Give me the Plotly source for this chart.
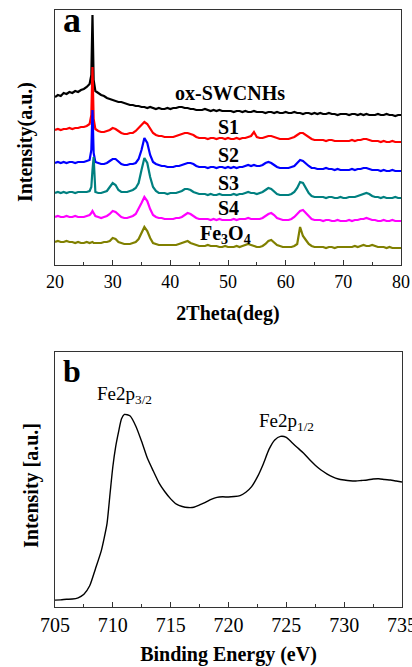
import plotly.graph_objects as go

# ---- (a) XRD patterns -------------------------------------------------------
two_theta = [
    20.0, 20.5, 21.0, 21.5, 22.0, 22.5, 23.0, 23.5, 24.0, 24.5, 25.0, 25.5, 26.0,
    26.3, 26.5, 26.7,
    27.0, 27.5, 28.0, 28.5, 29.0, 29.5, 30.0,
    30.5, 31.0, 31.5, 32.0, 32.5, 33.0, 33.5, 34.0, 34.5, 35.0,
    35.5, 36.0, 36.5, 37.0, 37.5, 38.0, 38.5, 39.0, 39.5, 40.0,
    40.5, 41.0, 41.5, 42.0, 42.5, 43.0, 43.5, 44.0, 44.5, 45.0,
    45.5, 46.0, 46.5, 47.0, 47.5, 48.0, 48.5, 49.0, 49.5, 50.0,
    50.5, 51.0, 51.5, 52.0, 52.5, 53.0, 53.5, 54.0, 54.5, 55.0,
    55.5, 56.0, 56.5, 57.0, 57.5, 58.0, 58.5, 59.0, 59.5, 60.0,
    60.5, 61.0, 61.5, 62.0, 62.5, 63.0, 63.5, 64.0, 64.5, 65.0,
    65.5, 66.0, 66.5, 67.0, 67.5, 68.0, 68.5, 69.0, 69.5, 70.0,
    70.5, 71.0, 71.5, 72.0, 72.5, 73.0, 73.5, 74.0, 74.5, 75.0,
    75.5, 76.0, 76.5, 77.0, 77.5, 78.0, 78.5, 79.0, 79.5, 80.0,
]

ox_swcnhs = [
    168, 170, 169, 172, 171, 173, 172, 174, 173, 175, 176, 178, 181,
    190, 250, 185,
    174, 172, 170, 169, 167, 166, 165,
    164, 163, 163, 162, 161, 160, 160, 159, 159, 158,
    158, 157, 158, 157, 156, 157, 156, 156, 157, 156,
    157, 157, 158, 158, 157, 157, 156, 156, 155, 155,
    155, 156, 155, 154, 155, 154, 155, 154, 154, 154,
    154, 153, 154, 154, 153, 154, 153, 153, 154, 153,
    153, 153, 152, 153, 153, 152, 153, 152, 152, 153,
    152, 152, 153, 152, 152, 151, 152, 152, 151, 152,
    151, 152, 151, 151, 152, 151, 151, 150, 151, 151,
    151, 150, 151, 151, 150, 151, 150, 151, 150, 150,
    150, 151, 150, 150, 151, 150, 150, 149, 150, 150,
]

s1 = [
    135, 136, 135, 136, 136, 137, 136, 137, 137, 138, 138, 139, 141,
    150, 198, 146,
    136, 134, 133, 133, 134, 135, 137,
    136, 134, 132, 131, 131, 132, 132, 134, 137, 141,
    143, 141, 136, 132, 130, 129, 129, 128, 128, 128,
    128, 129, 130, 131, 132, 132, 131, 130, 128, 127,
    127, 127, 126, 127, 127, 126, 127, 127, 126, 127,
    126, 126, 127, 126, 127, 127, 128, 129, 133, 128,
    127, 127, 128, 129, 129, 128, 127, 126, 126, 126,
    126, 127, 128, 130, 132, 132, 130, 128, 126, 125,
    125, 125, 125, 124, 125, 125, 124, 124, 124, 124,
    124, 124, 125, 124, 125, 125, 126, 126, 125, 124,
    124, 124, 123, 124, 123, 123, 124, 123, 123, 123,
]

s2 = [
    102, 103, 102, 103, 102, 103, 103, 102, 103, 103, 103, 104, 105,
    115, 155, 112,
    103, 102, 101, 101, 102, 104, 106,
    106, 103, 101, 100, 100, 101, 101, 102, 106, 115,
    127, 122, 110, 103, 101, 100, 99, 99, 98, 98,
    98, 99, 99, 100, 101, 102, 102, 101, 99, 98,
    98, 98, 97, 98, 98, 97, 98, 98, 97, 98,
    97, 98, 97, 98, 98, 99, 100, 99, 100, 99,
    99, 100, 102, 103, 102, 100, 98, 97, 97, 97,
    97, 98, 99, 102, 105, 104, 101, 99, 97, 97,
    96, 96, 96, 97, 96, 96, 95, 96, 95, 95,
    95, 95, 96, 95, 96, 96, 97, 97, 96, 95,
    95, 95, 94, 95, 94, 94, 95, 94, 94, 94,
]

s3 = [
    72, 73, 72, 73, 72, 73, 73, 72, 73, 73, 73, 73, 74,
    78, 95, 108,
    73, 72, 72, 73, 74, 78, 82,
    80, 75, 73, 73, 73, 74, 75, 77, 82, 95,
    107, 102, 88, 78, 74, 72, 72, 72, 71, 72,
    72, 72, 73, 74, 76, 76, 75, 73, 72, 71,
    71, 71, 70, 71, 70, 70, 71, 70, 70, 70,
    70, 71, 70, 71, 71, 72, 73, 72, 72, 71,
    72, 73, 75, 77, 76, 73, 71, 70, 70, 70,
    70, 71, 73, 77, 83, 82, 77, 72, 69, 68,
    68, 68, 68, 67, 68, 68, 67, 67, 68, 67,
    67, 68, 68, 68, 69, 70, 71, 72, 71, 69,
    68, 68, 67, 68, 67, 67, 67, 68, 67, 67,
]

s4 = [
    48, 49, 48, 48, 49, 48, 48, 49, 48, 48, 48, 49, 50,
    52, 54, 52,
    49, 48, 47, 48, 49, 51, 54,
    53, 50, 48, 47, 47, 48, 49, 51, 56, 62,
    68, 64, 56, 50, 48, 47, 47, 46, 46, 46,
    46, 47, 47, 48, 50, 52, 51, 49, 47, 46,
    46, 46, 46, 45, 46, 45, 46, 45, 45, 45,
    45, 46, 45, 46, 46, 46, 47, 46, 46, 46,
    46, 47, 49, 51, 52, 50, 47, 46, 45, 45,
    45, 46, 48, 51, 54, 55, 52, 48, 46, 45,
    45, 45, 44, 45, 45, 44, 44, 45, 44, 44,
    44, 45, 44, 45, 45, 46, 46, 47, 46, 45,
    45, 44, 44, 45, 44, 44, 45, 44, 44, 44,
]

fe3o4 = [
    23, 24, 23, 23, 24, 23, 23, 22, 23, 22, 22, 23, 22,
    23, 23, 22,
    22, 22, 22, 23, 23, 24, 27,
    26, 23, 22, 21, 21, 21, 22, 23, 26, 32,
    38, 34, 27, 22, 21, 20, 20, 20, 20, 20,
    20, 20, 21, 22, 23, 24, 22, 21, 20, 19,
    19, 19, 20, 19, 19, 19, 18, 18, 19, 18,
    18, 18, 19, 18, 19, 20, 21, 20, 19, 18,
    18, 19, 21, 24, 25, 22, 20, 19, 18, 18,
    18, 18, 19, 21, 38, 29, 25, 21, 19, 18,
    18, 18, 18, 17, 18, 18, 17, 18, 18, 18,
    18, 18, 18, 19, 18, 19, 20, 19, 19, 20,
    19, 18, 18, 18, 17, 18, 17, 17, 17, 17,
]

xrd_names = ["ox-SWCNHs", "S1", "S2", "S3", "S4", "Fe<sub>3</sub>O<sub>4</sub>"]
xrd_series = [ox_swcnhs, s1, s2, s3, s4, fe3o4]
xrd_colors = ["#000000", "#ff0000", "#0000ff", "#008080", "#ff00ff", "#808000"]
xrd_label_x = [50.3, 50.0, 50.0, 50.0, 50.0, 49.5]
xrd_label_y = [172, 138, 110, 82, 57, 30]

# ---- (b) Fe 2p XPS spectrum -------------------------------------------------
binding_energy = [
    705.0, 705.5, 706.0, 706.5, 707.0, 707.5, 708.0, 708.5, 709.0, 709.25,
    709.5, 709.75, 710.0, 710.25, 710.5, 710.75, 711.0, 711.5, 712.0, 712.5,
    713.0, 713.5, 714.0, 714.5, 715.0, 715.5, 716.0, 716.5, 717.0, 717.5,
    718.0, 718.5, 719.0, 719.5, 720.0, 720.5, 721.0, 721.5, 722.0, 722.5,
    723.0, 723.5, 724.0, 724.5, 725.0, 725.5, 726.0, 726.5, 727.0, 727.5,
    728.0, 728.5, 729.0, 729.5, 730.0, 730.5, 731.0, 731.5, 732.0, 732.5,
    733.0, 733.5, 734.0, 734.5, 735.0,
]
xps_intensity = [
    2.7, 2.8, 3.0, 3.1, 3.6, 5.0, 8.3, 15.0, 22.0, 27.0,
    32.8, 44.0, 55.0, 63.0, 68.8, 73.8, 75.5, 74.9, 70.8, 64.8,
    58.2, 53.3, 48.6, 45.2, 42.4, 40.3, 39.4, 39.0, 39.1, 40.0,
    41.0, 42.2, 43.0, 43.2, 43.1, 43.3, 43.7, 45.0, 47.2, 51.0,
    56.0, 61.8, 65.5, 66.9, 66.5, 64.4, 62.3, 60.3, 57.8, 55.6,
    53.7, 52.2, 51.0, 50.2, 49.8, 49.5, 49.4, 49.6, 49.8, 50.2,
    50.3, 50.0, 49.8, 49.4, 49.0,
]
xps_peak_names = ["Fe2p<sub>3/2</sub>", "Fe2p<sub>1/2</sub>"]
xps_peak_x = [711.05, 725.05]
xps_peak_y = [83.0, 72.5]

SERIF = "Liberation Serif"
FRAME = "#333333"

fig = go.Figure()

for name, ys, col in zip(xrd_names, xrd_series, xrd_colors):
    fig.add_trace(go.Scatter(
        x=two_theta, y=ys, mode="lines", name=name,
        line=dict(color=col, width=2.2), xaxis="x", yaxis="y",
    ))

fig.add_trace(go.Scatter(
    x=binding_energy, y=xps_intensity, mode="lines", name="Fe 2p",
    line=dict(color="#000000", width=1.4, shape="spline", smoothing=0.6),
    xaxis="x2", yaxis="y2",
))

# curve labels
for name, lx, ly in zip(xrd_names, xrd_label_x, xrd_label_y):
    fig.add_annotation(
        x=lx, y=ly, xref="x", yref="y", text="<b>%s</b>" % name,
        showarrow=False, font=dict(family=SERIF, size=20, color="black"),
    )
for name, px, py in zip(xps_peak_names, xps_peak_x, xps_peak_y):
    fig.add_annotation(
        x=px, y=py, xref="x2", yref="y2", text=name,
        showarrow=False, font=dict(family=SERIF, size=19, color="black"),
    )

# panel letters
fig.add_annotation(
    x=0.148, y=0.970, xref="paper", yref="paper", text="<b>a</b>",
    xanchor="left", yanchor="middle", showarrow=False,
    font=dict(family=SERIF, size=36, color="black"),
)
fig.add_annotation(
    x=0.148, y=0.444, xref="paper", yref="paper", text="<b>b</b>",
    xanchor="left", yanchor="middle", showarrow=False,
    font=dict(family=SERIF, size=32, color="black"),
)

# vertical axis titles
fig.add_annotation(
    x=0.0607, y=0.787, xref="paper", yref="paper", text="<b>Intensity(a.u.)</b>",
    textangle=-90, showarrow=False, xanchor="center", yanchor="middle",
    font=dict(family=SERIF, size=20, color="black"),
)
fig.add_annotation(
    x=0.0777, y=0.2714, xref="paper", yref="paper", text="<b>Intensity [a.u.]</b>",
    textangle=-90, showarrow=False, xanchor="center", yanchor="middle",
    font=dict(family=SERIF, size=20, color="black"),
)

axis_common = dict(
    showline=True, linecolor=FRAME, linewidth=1, mirror=True,
    showgrid=False, zeroline=False, automargin=False,
)

fig.update_layout(
    width=412, height=667,
    margin=dict(l=0, r=0, t=0, b=0),
    paper_bgcolor="white", plot_bgcolor="white",
    showlegend=False,
    font=dict(family=SERIF, color="black"),
    xaxis=dict(
        **axis_common, domain=[0.1335, 0.9733], range=[20, 80],
        dtick=10, ticks="inside", ticklen=5, tickcolor=FRAME,
        minor=dict(dtick=5, ticks="inside", ticklen=3, tickcolor=FRAME),
        tickfont=dict(family=SERIF, size=18, color="black"),
        title=dict(text="<b>2Theta(deg)</b>", font=dict(family=SERIF, size=20, color="black"), standoff=15),
        anchor="y",
    ),
    yaxis=dict(
        **axis_common, domain=[0.6027, 0.985], range=[0, 255],
        showticklabels=False, ticks="", anchor="x",
    ),
    xaxis2=dict(
        **axis_common, domain=[0.1335, 0.9757], range=[705, 735],
        dtick=5, ticks="inside", ticklen=5, tickcolor=FRAME,
        minor=dict(dtick=2.5, ticks="inside", ticklen=3, tickcolor=FRAME),
        tickfont=dict(family=SERIF, size=20, color="black"),
        ticklabeloverflow="allow",
        title=dict(text="<b>Binding Energy (eV)</b>", font=dict(family=SERIF, size=20, color="black"), standoff=12),
        anchor="y2",
    ),
    yaxis2=dict(
        **axis_common, domain=[0.09, 0.4723], range=[0, 100],
        showticklabels=False, ticks="", anchor="x2",
    ),
)

fig.write_html("out.html")
